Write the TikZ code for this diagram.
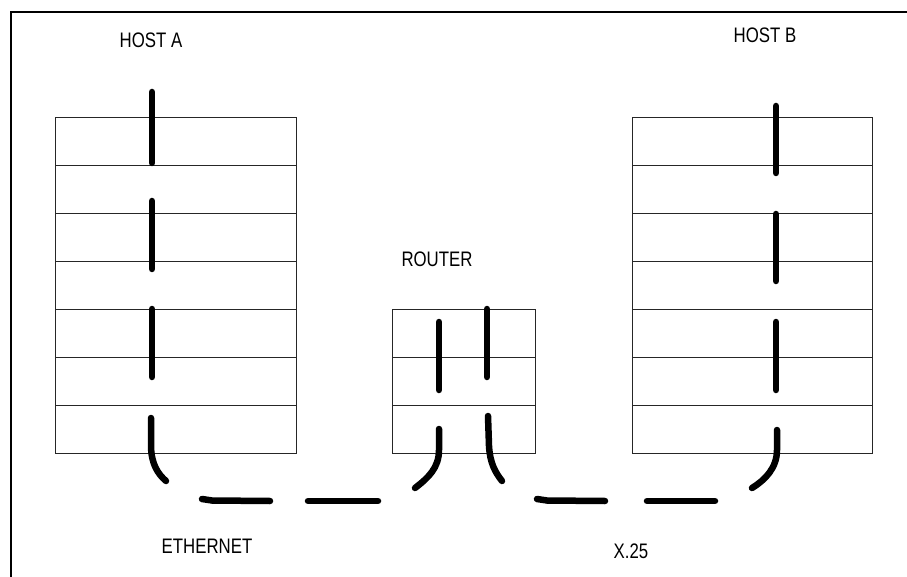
\documentclass[tikz,border=0pt]{standalone}
\usepackage{fontspec}
\setmainfont{Liberation Sans}[FakeStretch=0.8]
\begin{document}
\begin{tikzpicture}[x=1pt,y=-1pt,
  layer/.style={draw=black!85,line width=1pt,minimum width=241pt,minimum height=48pt,inner sep=0pt,anchor=north west},
  rlayer/.style={draw=black!85,line width=1pt,minimum width=143pt,minimum height=48pt,inner sep=0pt,anchor=north west},
  flow/.style={line width=6.5pt,line cap=round,black},
  lbl/.style={font=\fontsize{21}{24}\selectfont,inner sep=0pt,text=black}]
\useasboundingbox (0,0) rectangle (907,577);
\draw[line width=2pt] (11,580) -- (11,12) -- (910,12);
% Host A stack
\foreach \i/\y in {1/117,2/165,3/213,4/261,5/309,6/357,7/405}{
  \node[layer] (a\i) at (55,\y) {};
}
% Host B stack
\foreach \i/\y in {1/117,2/165,3/213,4/261,5/309,6/357,7/405}{
  \node[layer,minimum width=240pt] (b\i) at (632,\y) {};
}
% Router stack
\foreach \i/\y in {1/309,2/357,3/405}{
  \node[rlayer] (r\i) at (392,\y) {};
}
% labels
\node[lbl] (hosta) at (151,40.5) {HOST A};
\node[lbl] (hostb) at (765,35) {HOST B};
\node[lbl] (router) at (437,259.5) {ROUTER};
\node[lbl] (eth) at (207,546.5) {ETHERNET};
\node[lbl] (x25) at (631,551) {X.25};
% Host A flow
\draw[flow] (152,92) -- (152,163);
\draw[flow] (152,201) -- (152,269);
\draw[flow] (152,309) -- (152,377);
\draw[flow] (151,418) -- (151,445) .. controls (151,464) and (158,474) .. (166,481);
% Ethernet dashes
\draw[flow] (202,499) -- (212,500.5) -- (270,501);
\draw[flow] (308,501) -- (378,501);
% Router flow
\draw[flow] (439,322) -- (439,390);
\draw[flow] (487,309) -- (487,377);
\draw[flow] (439,429) -- (439,450) .. controls (439,468) and (428,478) .. (415,488);
\draw[flow] (488,416) -- (489,446) .. controls (490,463) and (495,472) .. (502,481);
% X.25 dashes
\draw[flow] (537,499) -- (547,500.5) -- (605,501);
\draw[flow] (647,501) -- (715,501);
% Host B flow
\draw[flow] (776,106) -- (776,173);
\draw[flow] (776,214) -- (776,281);
\draw[flow] (776,322) -- (776,390);
\draw[flow] (777,430) -- (777,450) .. controls (777,468) and (765,480) .. (752,488);
\end{tikzpicture}
\end{document}
